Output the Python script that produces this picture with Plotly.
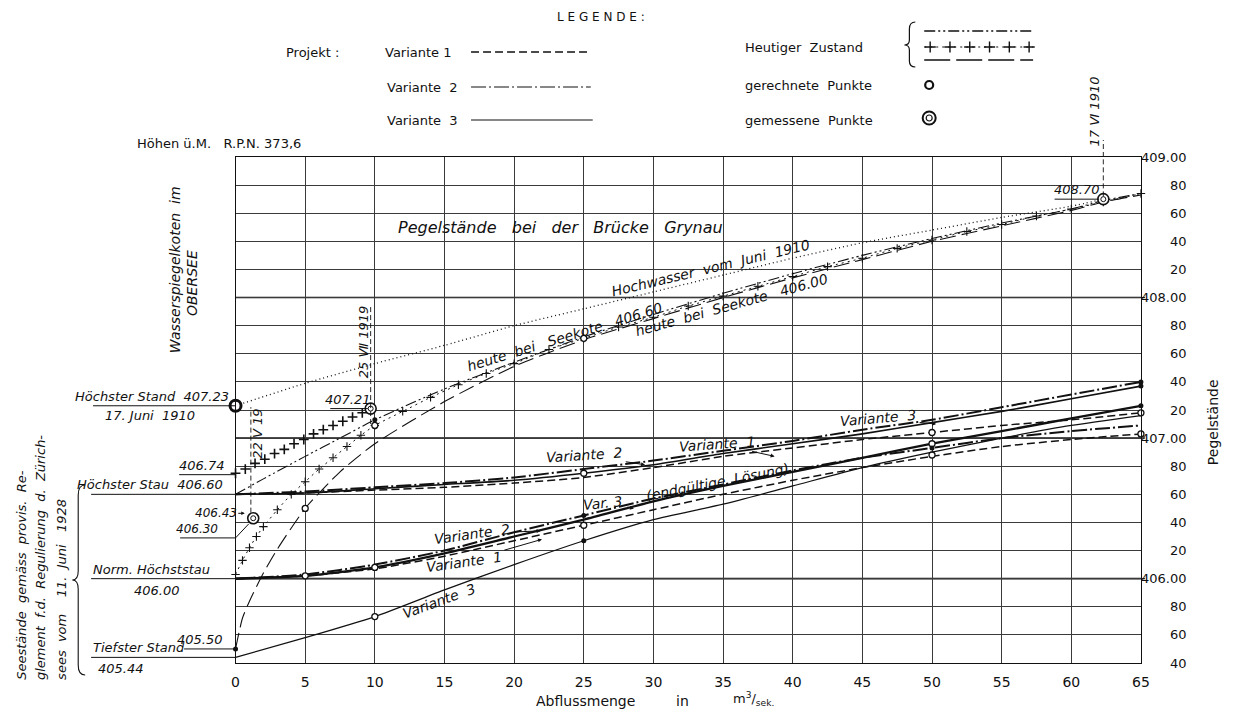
import plotly.graph_objects as go

# ---------------- data ----------------
X_STD = [0, 5, 10, 15, 20, 25, 30, 35, 40, 45, 50, 55, 60, 65]

# Projekt, Seekote 406.00 (Norm. Höchststau)
v1_a = [406.00, 406.02, 406.07, 406.16, 406.27, 406.38, 406.49, 406.60, 406.70, 406.79, 406.87, 406.94, 406.99, 407.03]
v2_a = [406.00, 406.03, 406.10, 406.20, 406.33, 406.45, 406.57, 406.67, 406.77, 406.86, 406.93, 407.00, 407.05, 407.09]
v3_a = [406.00, 406.02, 406.08, 406.18, 406.30, 406.42, 406.55, 406.66, 406.76, 406.86, 406.96, 407.05, 407.14, 407.23]
# Projekt, Seekote 406.60 (Höchster Stau)
v1_b = [406.60, 406.61, 406.63, 406.65, 406.68, 406.72, 406.79, 406.87, 406.93, 406.99, 407.04, 407.09, 407.13, 407.18]
v2_b = [406.60, 406.62, 406.65, 406.68, 406.72, 406.78, 406.84, 406.91, 406.98, 407.06, 407.13, 407.22, 407.31, 407.40]
v3_b = [406.60, 406.61, 406.64, 406.67, 406.70, 406.75, 406.81, 406.89, 406.96, 407.03, 407.11, 407.19, 407.28, 407.37]
# Variante 3 from Tiefster Stand
v3_low = [405.44, 405.58, 405.73, 405.92, 406.10, 406.27, 406.42, 406.53, 406.66, 406.79, 406.90, 407.00, 407.09, 407.16]

# Hochwasser vom Juni 1910 (dotted)
hw_x = [0, 5, 10, 15, 20, 25, 30, 35, 40, 45, 50, 55, 60, 62.3]
hw_y = [407.23, 407.39, 407.53, 407.66, 407.80, 407.92, 408.04, 408.16, 408.28, 408.39, 408.48, 408.57, 408.65, 408.70]

# Heutiger Zustand, Seekote 406.60 (dash-dot-dot)
h660_x = [0, 2, 5, 7.5, 10, 15, 20, 25, 30, 35, 40, 45, 50, 55, 60, 62.3, 65]
h660_y = [406.60, 406.71, 406.87, 407.00, 407.13, 407.35, 407.54, 407.72, 407.88, 408.03, 408.17, 408.30, 408.42, 408.53, 408.63, 408.69, 408.74]

# Heutiger Zustand, Seekote 406.00 (+ . + . line)
h600_x = [0, 0.5, 1, 1.5, 2, 3, 4, 5, 6, 7, 8, 9, 10, 12, 14, 16, 18, 20, 22.5, 25, 27.5, 30,
          32.5, 35, 37.5, 40, 42.5, 45, 47.5, 50, 52.5, 55, 57.5, 60, 62.3, 65]
h600_y = [406.03, 406.13, 406.22, 406.30, 406.37, 406.49, 406.60, 406.69, 406.78, 406.86, 406.94, 407.02,
          407.09, 407.19, 407.29, 407.38, 407.46, 407.53, 407.63, 407.71, 407.79, 407.86,
          407.94, 408.01, 408.08, 408.15, 408.22, 408.28, 408.35, 408.41, 408.47, 408.52,
          408.58, 408.63, 408.68, 408.74]

# Heutiger Zustand from Tiefster Stand 405.50 (long dash)
hlow_x = [0, 0.5, 1, 2, 3, 5, 7.5, 10, 15, 20, 25, 30, 35, 40, 45, 50, 55, 60, 62.3, 65]
hlow_y = [405.50, 405.72, 405.84, 406.04, 406.21, 406.50, 406.76, 406.96, 407.26, 407.51, 407.70,
          407.85, 408.00, 408.14, 408.27, 408.40, 408.51, 408.62, 408.68, 408.73]

# "+ + +" measurements 22 V 19 -> 25 VII 1919
cross_x = [0, 0.7, 1.4, 2.1, 2.8, 3.5, 4.2, 4.9, 5.6, 6.3, 7.0, 7.7, 8.4, 9.1]
cross_y = [406.75, 406.78, 406.82, 406.85, 406.89, 406.92, 406.96, 406.99, 407.03, 407.06, 407.09, 407.12, 407.15, 407.18]

# gerechnete Punkte (open circles)
calc_x = [5, 10, 10, 25, 25, 5, 10, 25, 50, 50, 50, 65, 65]
calc_y = [406.02, 406.08, 405.73, 406.38, 406.75, 406.50, 407.09, 407.71, 407.04, 406.96, 406.88, 407.18, 407.03]
# filled points
dot_x = [0, 10, 25, 25, 65, 65, 65, 50]
dot_y = [405.50, 407.13, 406.45, 406.27, 407.40, 407.37, 407.23, 406.93]
# gemessene Punkte (double circles)
meas_x = [1.27, 9.7, 62.3]
meas_y = [406.43, 407.21, 408.70]
hoechst_x = [0]
hoechst_y = [407.23]

# axes / ticks
x_ticks = [0, 5, 10, 15, 20, 25, 30, 35, 40, 45, 50, 55, 60, 65]
y_ticks = [409.0, 408.8, 408.6, 408.4, 408.2, 408.0, 407.8, 407.6, 407.4, 407.2,
           407.0, 406.8, 406.6, 406.4, 406.2, 406.0, 405.8, 405.6, 405.4]
y_tick_text = ["409.00", "80", "60", "40", "20", "408.00", "80", "60", "40", "20",
               "407.00", "80", "60", "40", "20", "406.00", "80", "60", "40"]

# ---------------- layout geometry ----------------
W, H = 1238, 713
X0_PX, X1_PX, Y_TOP_PX, Y_BOT_PX = 234, 1149, 157, 663
X_RANGE = [0, 65]
Y_RANGE = [405.4, 409.0]


def xpx(v):
    return X0_PX + (v - X_RANGE[0]) / (X_RANGE[1] - X_RANGE[0]) * (X1_PX - X0_PX)


FONT = "DejaVu Sans"
BLK = "#111111"

DASH_V1 = "8px,4px"
DASH_V2 = "15px,3px,2px,3px"
DASH_DDOT = "11px,3px,2px,3px,2px,3px"
DASH_LONG = "16px,6px"
DASH_DOT = "1px,3px"

fig = go.Figure()


def line(x, y, dash, width, name):
    fig.add_trace(go.Scatter(x=x, y=y, mode="lines", name=name, showlegend=False,
                             line=dict(color=BLK, width=width, dash=dash, shape="spline", smoothing=0.6),
                             hoverinfo="skip"))


def marks(x, y, xaxis="x", yaxis="y", **marker):
    fig.add_trace(go.Scatter(x=x, y=y, xaxis=xaxis, yaxis=yaxis, mode="markers", showlegend=False,
                             cliponaxis=False, marker=marker, hoverinfo="skip"))


# heutiger Zustand
line(hw_x, hw_y, DASH_DOT, 1.3, "Hochwasser Juni 1910")
line(h660_x, h660_y, DASH_DDOT, 1.1, "heute 406.60")
line(h600_x, h600_y, "2px,4px", 1.0, "heute 406.00")
marks(h600_x, h600_y, symbol="cross-thin", size=6, color=BLK, line=dict(color=BLK, width=1.1))
line(hlow_x, hlow_y, DASH_LONG, 1.1, "heute 405.50")
marks(cross_x, cross_y, symbol="cross-thin", size=7, color=BLK, line=dict(color=BLK, width=1.6))

# Projekt variants
line(X_STD, v1_b, DASH_V1, 1.5, "V1 406.60")
line(X_STD, v2_b, DASH_V2, 2.0, "V2 406.60")
line(X_STD, v3_b, None, 1.6, "V3 406.60")
line(X_STD, v1_a, DASH_V1, 1.5, "V1 406.00")
line(X_STD, v2_a, DASH_V2, 2.0, "V2 406.00")
line(X_STD, v3_a, None, 2.3, "V3 406.00")
line(X_STD, v3_low, None, 1.2, "V3 405.44")

# points
marks(calc_x, calc_y, symbol="circle", size=6, color="white", line=dict(color=BLK, width=1.3))
marks(dot_x, dot_y, symbol="circle", size=5, color=BLK, line=dict(color=BLK, width=0))
marks(meas_x, meas_y, symbol="circle", size=11, color="white", line=dict(color=BLK, width=1.6))
marks(meas_x, meas_y, symbol="circle-open", size=5, color=BLK, line=dict(color=BLK, width=1))
marks(hoechst_x, hoechst_y, symbol="circle", size=11, color="white", line=dict(color=BLK, width=3))

# ---------------- legend samples (pixel overlay axes) ----------------
leg_cross_x = [936, 956, 976, 996, 1016, 1036]
fig.add_trace(go.Scatter(x=[930, 1040], y=[47, 47], xaxis="x2", yaxis="y2", mode="lines", showlegend=False,
                         line=dict(color=BLK, width=1, dash="2px,4px"), hoverinfo="skip"))
marks(leg_cross_x, [47] * len(leg_cross_x), "x2", "y2", symbol="cross-thin", size=8, color=BLK,
      line=dict(color=BLK, width=1.4))
marks([935], [85], "x2", "y2", symbol="circle", size=8, color="white", line=dict(color=BLK, width=2.2))
marks([935], [118], "x2", "y2", symbol="circle", size=13, color="white", line=dict(color=BLK, width=2))
marks([935], [118], "x2", "y2", symbol="circle-open", size=6, color=BLK, line=dict(color=BLK, width=1.2))

shapes = []


def seg(x0, y0, x1, y1, xref, yref, width=1.0, dash=None, layer="above"):
    shapes.append(dict(type="line", x0=x0, y0=y0, x1=x1, y1=y1, xref=xref, yref=yref, layer=layer,
                       line=dict(color=BLK, width=width, dash=dash)))


# legend lines
seg(472, 52, 593, 52, "x2", "y2", 1.6, DASH_V1)
seg(472, 87, 593, 87, "x2", "y2", 1.1, DASH_V2)
seg(472, 120, 595, 120, "x2", "y2", 1.2)
seg(930, 31, 1040, 31, "x2", "y2", 1.6, DASH_DDOT)
seg(930, 60, 1040, 60, "x2", "y2", 1.6, "26px,6px")
# legend brace
shapes.append(dict(type="path", xref="x2", yref="y2",
                   path="M 921 22 Q 915 22 915 29 L 915 40 Q 915 45 910 45 Q 915 45 915 50 L 915 61 Q 915 67 921 67",
                   line=dict(color=BLK, width=1.2)))
# left brace
shapes.append(dict(type="path", xref="x2", yref="y2",
                   path="M 82 485 Q 75 485 75 495 L 75 571 Q 75 580 69 580 Q 75 580 75 589 L 75 665 Q 75 675 82 675",
                   line=dict(color=BLK, width=1.1)))

# integer grid lines heavier
for v in [406.0, 407.0, 408.0]:
    seg(X_RANGE[0], v, X_RANGE[1], v, "x", "y", 1.6, layer="below")
    seg(X1_PX, v, X1_PX + 4, v, "x2", "y", 1.2)

# left label underlines (x in pixels, y in data)
seg(90, 407.23, X0_PX, 407.23, "x2", "y", 1.0)
seg(177, 406.74, X0_PX, 406.74, "x2", "y", 1.0)
seg(88, 406.60, X0_PX, 406.60, "x2", "y", 1.0)
seg(178, 406.29, X0_PX, 406.29, "x2", "y", 1.0)
seg(0, 406.29, 0.95, 406.39, "x", "y", 1.0)
seg(88, 406.00, X0_PX, 406.00, "x2", "y", 1.0)
seg(182, 405.50, X0_PX, 405.50, "x2", "y", 1.0)
seg(88, 405.44, X0_PX, 405.44, "x2", "y", 1.0)

# date lines
seg(1.1, 406.47, 1.1, 407.22, "x", "y", 0.9, "5px,3px")
seg(9.7, 407.10, 9.7, 407.95, "x", "y", 0.9, "5px,3px")
seg(62.3, 408.72, 62.3, 409.0, "x", "y", 0.9, "5px,3px")
seg(xpx(62.3), Y_TOP_PX, xpx(62.3), 140, "x2", "y2", 0.9, "5px,3px")
# value underlines inside
seg(6.8, 407.21, 9.5, 407.21, "x", "y", 1.0)
seg(58.8, 408.70, 62.0, 408.70, "x", "y", 1.0)

ann = []


def txt(x, y, text, xref="x", yref="y", size=13, italic=True, angle=0, xanchor="center",
        yanchor="middle", **kw):
    d = dict(x=x, y=y, text=text, xref=xref, yref=yref, showarrow=False, textangle=angle,
             xanchor=xanchor, yanchor=yanchor,
             font=dict(family=FONT, size=size, color=BLK, style="italic" if italic else "normal"))
    d.update(kw)
    ann.append(d)


def arrow_txt(x, y, tx, ty, text, size=13, angle=0):
    ann.append(dict(x=x, y=y, ax=tx, ay=ty, axref="x", ayref="y", xref="x", yref="y", text=text,
                    showarrow=True, arrowhead=2, arrowsize=0.8, arrowwidth=1, arrowcolor=BLK,
                    textangle=angle, standoff=0, startstandoff=2,
                    font=dict(family=FONT, size=size, color=BLK, style="italic")))


# legend texts
txt(557, 17, "L E G E N D E :", "x2", "y2", 12, False, xanchor="left")
txt(283, 52, "Projekt :", "x2", "y2", 13, False, xanchor="left")
txt(383, 52, "Variante 1", "x2", "y2", 13, False, xanchor="left")
txt(385, 87, "Variante  2", "x2", "y2", 13, False, xanchor="left")
txt(385, 120, "Variante  3", "x2", "y2", 13, False, xanchor="left")
txt(747, 47, "Heutiger  Zustand", "x2", "y2", 13, False, xanchor="left")
txt(747, 85, "gerechnete  Punkte", "x2", "y2", 13, False, xanchor="left")
txt(747, 120, "gemessene  Punkte", "x2", "y2", 13, False, xanchor="left")
txt(132, 143, "Höhen ü.M.   R.P.N. 373,6", "x2", "y2", 13, False, xanchor="left")

# left titles
txt(173, 270, "Wasserspiegelkoten  im", "x2", "y2", 14, True, -90)
txt(190, 283, "OBERSEE", "x2", "y2", 14, True, -90)
txt(17, 682, "Seestände  gemäss  provis.  Re-", "x2", "y2", 13, True, -90, yanchor="bottom")
txt(37, 682, "glement  f.d.  Regulierung  d.  Zürich-", "x2", "y2", 13, True, -90, yanchor="bottom")
txt(58, 682, "sees  vom    11.  Juni   1928", "x2", "y2", 13, True, -90, yanchor="bottom")

# left labels
txt(229, 407.23, "Höchster Stand  407.23", "x2", "y", 13, xanchor="right", yanchor="bottom")
txt(148, 407.16, "17. Juni  1910", "x2", "y", 13)
txt(225, 406.74, "406.74", "x2", "y", 13, xanchor="right", yanchor="bottom")
txt(223, 406.60, "Höchster Stau  406.60", "x2", "y", 13, xanchor="right", yanchor="bottom")
ann.append(dict(x=0.95, y=406.465, xref="x", yref="y", ax=-33, ay=0, text="406.43", showarrow=True,
                arrowhead=2, arrowsize=0.7, arrowwidth=1, arrowcolor=BLK, standoff=4,
                font=dict(family=FONT, size=12, color=BLK, style="italic")))
txt(218, 406.29, "406.30", "x2", "y", 12, xanchor="right", yanchor="bottom")
txt(88, 406.00, "Norm. Höchststau", "x2", "y", 13, xanchor="left", yanchor="bottom")
txt(155, 405.985, "406.00", "x2", "y", 13, yanchor="top")
txt(223, 405.50, "405.50", "x2", "y", 13, xanchor="right", yanchor="bottom")
txt(88, 405.44, "Tiefster Stand", "x2", "y", 13, xanchor="left", yanchor="bottom")
txt(93, 405.43, "405.44", "x2", "y", 13, xanchor="left", yanchor="top")

# right tick labels + title
for v, t in zip(y_ticks, y_tick_text):
    txt(1198, v, t, "x2", "y", 13, False, xanchor="right")
txt(1222, 422, "Pegelstände", "x2", "y2", 14, False, -90)

# bottom axis title
txt(588, 701, "Abflussmenge", "x2", "y2", 14, False)
txt(686, 701, "in", "x2", "y2", 14, False)
txt(757, 699, "m<sup>3</sup>/<sub>sek.</sub>", "x2", "y2", 13, False)

# date labels
txt(1.6, 407.03, "22 Ⅴ 19", size=13, angle=-90)
txt(9.2, 407.68, "25 Ⅶ 1919", size=13, angle=-90)
txt(1102, 111, "17 Ⅵ 1910", "x2", "y2", 13, True, -90)
txt(8.1, 407.21, "407.21", size=13, yanchor="bottom")
txt(60.4, 408.70, "408.70", size=13, yanchor="bottom")

# in-plot texts
txt(23.3, 408.50, "Pegelstände   bei   der   Brücke   Grynau", size=16)
txt(34.1, 408.21, "Hochwasser  vom  Juni  1910", size=14, angle=-13.5)
txt(23.6, 407.72, "heute  bei   Seekote   406,60", size=14, angle=-17)
txt(35.6, 407.95, "heute  bei  Seekote   406.00", size=14, angle=-15.5)
txt(34.6, 406.69, "(endgültige  Lösung)", size=14, angle=-11)
txt(14.6, 405.84, "Variante  3", size=14, angle=-20)
arrow_txt(29.4, 406.81, 25.0, 406.88, "Variante  2", 14, -4)
arrow_txt(38.7, 406.87, 34.6, 406.96, "Variante  1", 14, -4)
arrow_txt(50.3, 407.10, 46.1, 407.14, "Variante  3", 14, -5)
arrow_txt(21.9, 406.34, 17.0, 406.32, "Variante  2", 14, -8)
arrow_txt(22.0, 406.28, 16.4, 406.12, "Variante  1", 14, -8)
arrow_txt(28.6, 406.50, 26.4, 406.54, "Var. 3", 14, -6)

fig.update_layout(
    width=W, height=H, autosize=False,
    margin=dict(l=0, r=0, t=0, b=0, pad=0),
    paper_bgcolor="white", plot_bgcolor="rgba(0,0,0,0)",
    showlegend=False,
    xaxis=dict(domain=[X0_PX / W, X1_PX / W], range=X_RANGE, tickvals=x_ticks,
               showgrid=True, gridcolor="#3a3a3a", gridwidth=0.8, zeroline=False,
               showline=True, mirror=True, linecolor=BLK, linewidth=1.4, ticks="",
               ticklabelstandoff=6,
               tickfont=dict(family=FONT, size=14, color=BLK), fixedrange=True),
    yaxis=dict(domain=[1 - Y_BOT_PX / H, 1 - Y_TOP_PX / H], range=Y_RANGE, tickvals=y_ticks,
               showticklabels=False, showgrid=True, gridcolor="#3a3a3a", gridwidth=0.8,
               zeroline=False, showline=True, mirror=True, linecolor=BLK, linewidth=1.4,
               ticks="", fixedrange=True),
    xaxis2=dict(domain=[0, 1], range=[0, W], visible=False, anchor="y2", fixedrange=True),
    yaxis2=dict(domain=[0, 1], range=[H, 0], visible=False, anchor="x2", fixedrange=True),
    shapes=shapes,
    annotations=ann,
)

fig.write_html("out.html", config={"displayModeBar": False},
               post_script="document.body.style.margin='0';")
